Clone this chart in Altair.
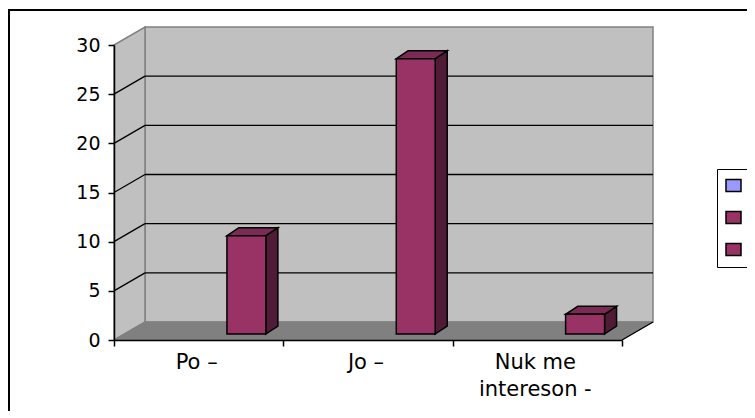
import altair as alt
import pandas as pd

# ---- data ----
categories = ["Po –", "Jo –", "Nuk me intereson -"]
category_labels = ["Po –", "Jo –", "Nuk me\nintereson -"]
values = [10, 28, 2]
series = ["Seria 1", "Seria 2", "Seria 3"]
series_colors = ["#9999FF", "#993366", "#993366"]
bar_series = "Seria 2"
y_ticks = [0, 5, 10, 15, 20, 25, 30]
x_ticks = [0, 1, 2, 3]
grid_values = [5, 10, 15, 20, 25]

# ---- geometry / style ----
W, H = 508, 295
NCAT = len(categories)
YMAX = 30
ux = NCAT / W          # data units per pixel along x
uy = YMAX / H          # data units per pixel along y
DX, DZ = 31, 18        # depth of the 3-D box (px)
BDX, BDZ = 12, 8       # depth of a column (px)
Z0 = 6 * uy            # column base above the front floor edge
BAR_OFF, BAR_W = 0.667, 0.23
dxU, dzU = DX * ux, DZ * uy
FONT = "DejaVu Sans"

xs = alt.Scale(domain=[0, NCAT], nice=False, zero=False)
ys = alt.Scale(domain=[0, YMAX], nice=False, zero=False)

axis_common = dict(
    title=None, grid=False, domainColor="black", tickColor="black", labelColor="black",
    domainWidth=1.5, tickWidth=1.5, tickSize=6, labelFont=FONT, labelFontSize=19, zindex=2,
)
X_AXIS = alt.Axis(values=x_ticks, labels=False, **axis_common)
Y_AXIS = alt.Axis(values=y_ticks, labelPadding=8, **axis_common)


def X(f):
    return alt.X(f, type="quantitative", scale=xs, axis=X_AXIS)


def Y(f):
    return alt.Y(f, type="quantitative", scale=ys, axis=Y_AXIS)


one = pd.DataFrame({"k": [0]})

# outer chart border
border = alt.Chart(one).mark_rect(fill="transparent", stroke="black", strokeWidth=2).encode(
    x=alt.value(-105), x2=alt.value(900), y=alt.value(-35), y2=alt.value(600)
)

# back wall
back = alt.Chart(pd.DataFrame({"x": [dxU], "x2": [NCAT + dxU], "y": [dzU], "y2": [YMAX + dzU]})).mark_rect(
    fill="#C0C0C0", stroke="#808080", strokeWidth=1.5
).encode(x=X("x"), x2="x2", y=Y("y"), y2="y2")

# left wall
left = alt.Chart(pd.DataFrame({"x": [0, dxU], "lo": [0, dzU], "hi": [YMAX, YMAX + dzU]})).mark_area(
    orient="vertical", fill="#C0C0C0", stroke="#808080", strokeWidth=1.5
).encode(x=X("x"), y=Y("lo"), y2="hi")

# floor
floor = alt.Chart(pd.DataFrame({"y": [0, dzU], "l": [0, dxU], "r": [NCAT, NCAT + dxU]})).mark_area(
    orient="horizontal", fill="#808080", stroke="#808080", strokeWidth=1
).encode(y=Y("y"), x=X("l"), x2="r")

# gridlines on back wall and left wall
gdf = pd.DataFrame({"v": grid_values})
gdf["vb"] = gdf["v"] + dzU
gdf["x0"] = 0.0
gdf["xb"] = dxU
gdf["xe"] = NCAT + dxU
grid_back = alt.Chart(gdf).mark_rule(color="black", strokeWidth=1.3).encode(
    x=X("xb"), x2="xe", y=Y("vb")
)
grid_left = alt.Chart(gdf).mark_rule(color="black", strokeWidth=1.3).encode(
    x=X("x0"), x2="xb", y=Y("v"), y2="vb"
)
floor_edge = alt.Chart(pd.DataFrame({"x": [NCAT], "x2": [NCAT + dxU], "y": [0], "y2": [dzU]})).mark_rule(
    color="black", strokeWidth=1.3
).encode(x=X("x"), x2="x2", y=Y("y"), y2="y2")

# columns
rows, side_rows, top_rows = [], [], []
for i, (c, v) in enumerate(zip(categories, values)):
    a = i + BAR_OFF
    b = a + BAR_W
    rows.append({"cat": c, "a": a, "b": b, "lo": Z0, "hi": Z0 + v, "serie": bar_series})
    side_rows.append({"cat": c, "x": b, "lo": Z0, "hi": Z0 + v})
    side_rows.append({"cat": c, "x": b + BDX * ux, "lo": Z0 + BDZ * uy, "hi": Z0 + v + BDZ * uy})
    top_rows.append({"cat": c, "y": Z0 + v, "l": a, "r": b})
    top_rows.append({"cat": c, "y": Z0 + v + BDZ * uy, "l": a + BDX * ux, "r": b + BDX * ux})

side = alt.Chart(pd.DataFrame(side_rows)).mark_area(
    orient="vertical", fill="#4F1B36", stroke="black", strokeWidth=1.5
).encode(x=X("x"), y=Y("lo"), y2="hi", detail="cat:N")
top = alt.Chart(pd.DataFrame(top_rows)).mark_area(
    orient="horizontal", fill="#7B2A55", stroke="black", strokeWidth=1.5
).encode(y=Y("y"), x=X("l"), x2="r", detail="cat:N")

front = alt.Chart(pd.DataFrame(rows)).mark_bar(stroke="black", strokeWidth=1.5).encode(
    x=X("a"),
    x2="b",
    y=Y("lo"),
    y2="hi",
    color=alt.Color(
        "serie:N",
        scale=alt.Scale(domain=series, range=series_colors),
        legend=alt.Legend(
            title=None, orient="none", legendX=603, legendY=124, labelExpr="''",
            symbolType="M-1,-0.8H1V0.8H-1Z", symbolSize=225, symbolStrokeColor="black",
            symbolStrokeWidth=1.5, symbolOpacity=1, strokeColor="black", fillColor="white",
            padding=8, rowPadding=13, labelOffset=6, labelFontSize=10,
        ),
    ),
)

# category labels
ldf = pd.DataFrame({"lab": category_labels, "pos": [i + 0.5 for i in range(NCAT)], "y": [0] * NCAT})
labels = alt.Chart(ldf).mark_text(
    font=FONT, fontSize=21, baseline="alphabetic", align="center", dy=29, dx=-2,
    lineBreak="\n", lineHeight=26.7, color="black",
).encode(x=X("pos"), y=Y("y"), text="lab:N")

chart = alt.layer(
    border, back, left, floor, grid_back, grid_left, floor_edge, side, top, front, labels
).properties(
    width=W, height=H,
    padding={"left": 106, "top": 37, "right": 125, "bottom": 71},
    autosize=alt.AutoSizeParams(type="none"),
    background="white",
).configure_view(strokeWidth=0)

chart.save("out.html", embed_options={"renderer": "svg", "actions": False})
